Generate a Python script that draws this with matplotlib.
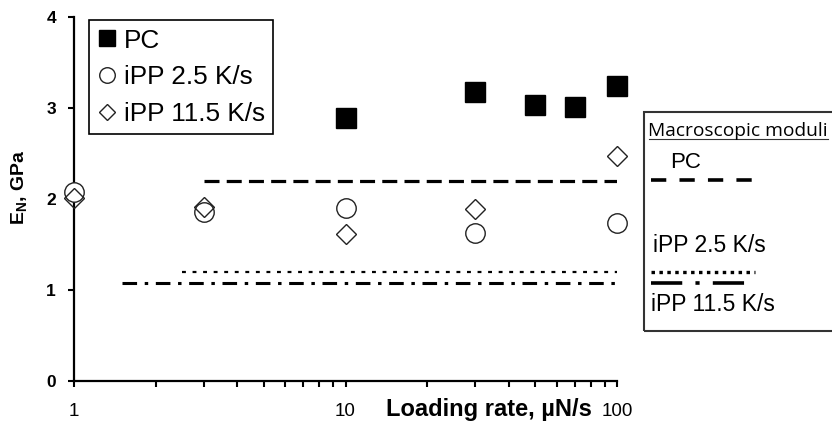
import matplotlib
matplotlib.use("Agg")
import matplotlib.pyplot as plt
from matplotlib.lines import Line2D
from matplotlib.patches import Rectangle

plt.rcParams['font.family'] = ['Liberation Sans', 'DejaVu Sans']
plt.rcParams['lines.scale_dashes'] = False
plt.rcParams['mathtext.fontset'] = 'custom'
plt.rcParams['mathtext.rm'] = 'Liberation Sans:bold'
plt.rcParams['mathtext.bf'] = 'Liberation Sans:bold'

# ---- data ----
pc_x = [10, 30, 50, 70, 100]
pc_y = [2.89, 3.18, 3.03, 3.01, 3.24]

ipp25_x = [1, 3, 10, 30, 100]
ipp25_y = [2.08, 1.86, 1.90, 1.63, 1.74]

ipp115_x = [1, 3, 10, 30, 100]
ipp115_y = [2.01, 1.91, 1.61, 1.89, 2.47]

macro_pc_x = [3, 100]
macro_pc_y = [2.20, 2.20]
macro_ipp25_x = [2.5, 100]
macro_ipp25_y = [1.20, 1.20]
macro_ipp115_x = [1.5, 100]
macro_ipp115_y = [1.08, 1.08]

yticks = [0, 1, 2, 3, 4]
xticks = [1, 10, 100]
xtick_labels = ['1', '10', '100']

W, H = 832, 423
fig = plt.figure(figsize=(W / 100, H / 100), dpi=100)
ax = fig.add_axes([74 / W, 1 - 381 / H, (617 - 74) / W, (381 - 17) / H])

# macroscopic lines
ax.plot(macro_pc_x, macro_pc_y, color='black', lw=2.3, dashes=(10.8, 5.2))
ax.plot(macro_ipp25_x, macro_ipp25_y, color='black', lw=1.6, dashes=(2.8, 4.8))
ax.plot(macro_ipp115_x, macro_ipp115_y, color='black', lw=2.2,
        dashes=(10.5, 5.5, 2.5, 5.5))

# data points
ax.plot(pc_x, pc_y, ls='none', marker='s', ms=15, mfc='black', mec='black',
        label='PC', clip_on=False)
ax.plot(ipp25_x, ipp25_y, ls='none', marker='o', ms=14, mfc='white', mec='#222222',
        mew=1.0, label='iPP 2.5 K/s', clip_on=False, zorder=3)
ax.plot(ipp115_x, ipp115_y, ls='none', marker='D', ms=10.5, mfc='none', mec='#222222',
        mew=1.0, label='iPP 11.5 K/s', clip_on=False, zorder=4)

ax.set_xscale('log')
ax.set_xlim(1, 100)
ax.set_ylim(0, 4)
ax.set_yticks(yticks)
ax.set_yticklabels([str(t) for t in yticks], fontweight='bold', fontsize=12.5)
ax.set_xticks(xticks)
ax.set_xticklabels(xtick_labels, fontsize=13.5)

for s in ['top', 'right']:
    ax.spines[s].set_visible(False)
for s in ['left', 'bottom']:
    ax.spines[s].set_linewidth(1.6)
ax.tick_params(axis='both', which='both', direction='out', width=1.5, length=4)
ax.tick_params(axis='y', pad=9)
ax.tick_params(axis='x', which='major', pad=12)

# axis labels
ax.text(489 / W, 1 - 409 / H, 'Loading rate, \u00b5N/s', transform=fig.transFigure,
        ha='center', va='center', fontsize=17, fontweight='bold')
fig.text(20 / W, 1 - 187 / H, r'E$_\mathbf{N}$, GPa', rotation=90, ha='center',
         va='center', fontsize=14, fontweight='bold')

# legend
leg = ax.legend(loc='upper left', bbox_to_anchor=(89 / W, 1 - 20 / H),
                bbox_transform=fig.transFigure, borderaxespad=0, fontsize=18.8,
                handlelength=0.7, handletextpad=0.3, labelspacing=0.48,
                borderpad=0.33, markerscale=0.8, fancybox=False, framealpha=1)
leg.get_frame().set_edgecolor('black')
leg.get_frame().set_linewidth(1.2)

# right-hand box (macroscopic moduli)
fig.patches.append(Rectangle((644 / W, 1 - 331 / H), 220 / W, 219 / H,
                             transform=fig.transFigure, fill=False,
                             edgecolor='#333333', lw=1.5))
fig.text(648 / W, 1 - 136 / H, 'Macroscopic moduli', family=['Open Sans', 'DejaVu Sans'],
         fontsize=13.8, ha='left', va='baseline')
fig.lines.append(Line2D([649 / W, 828 / W], [1 - 139.5 / H, 1 - 139.5 / H],
                        transform=fig.transFigure, color='#333333', lw=0.8))
fig.text(670 / W, 1 - 163 / H, 'PC', fontsize=16, ha='left', va='center')
fig.lines.append(Line2D([651 / W, 754 / W], [1 - 180 / H, 1 - 180 / H],
                        transform=fig.transFigure, color='black', lw=2.6,
                        dashes=(11, 9.5)))
fig.text(653 / W, 1 - 245 / H, 'iPP 2.5 K/s', fontsize=16.5, ha='left', va='center')
fig.lines.append(Line2D([651 / W, 755 / W], [1 - 272 / H, 1 - 272 / H],
                        transform=fig.transFigure, color='black', lw=2.4,
                        dashes=(2.5, 3.2)))
fig.lines.append(Line2D([651 / W, 746 / W], [1 - 283 / H, 1 - 283 / H],
                        transform=fig.transFigure, color='black', lw=2.6,
                        dashes=(22.5, 9.5, 3, 9.5)))
fig.text(651 / W, 1 - 304 / H, 'iPP 11.5 K/s', fontsize=16.5, ha='left', va='center')

fig.savefig('out.png', dpi=100)
